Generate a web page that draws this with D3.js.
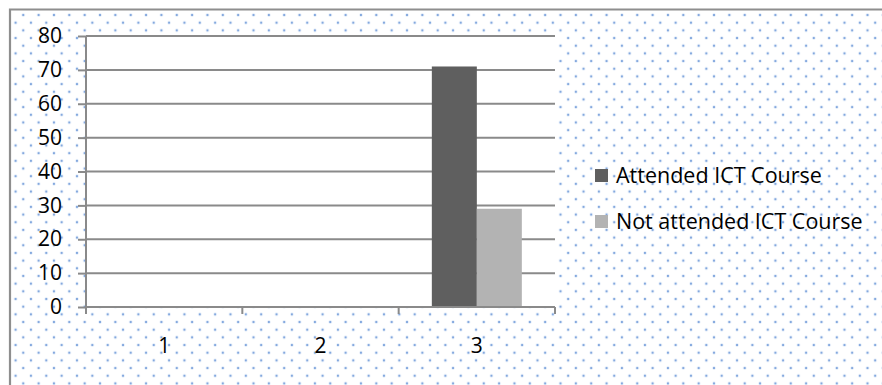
<!DOCTYPE html>
<html>
<head>
<meta charset="utf-8">
<script src="https://cdn.jsdelivr.net/npm/d3@7"></script>
<style>
  html, body { margin: 0; padding: 0; background: #fff; }
  svg { display: block; }
  text { font-family: "Open Sans", "Liberation Sans", sans-serif; fill: #000; }
</style>
</head>
<body>
<svg id="chart" width="882" height="385"></svg>
<script>
// Chart data
const categories = ["1", "2", "3"];
const seriesNames = ["Attended ICT Course", "Not attended ICT Course"];
const attended = [0, 0, 71];
const notAttended = [0, 0, 29];
const yTicks = [0, 10, 20, 30, 40, 50, 60, 70, 80];
const seriesColors = ["#5f5f5f", "#b3b3b3"];

const W = 882, H = 385;
const plot = { left: 86, right: 555, top: 36, bottom: 307 };
const axisColor = "#8a8a8a";
const fontStack = '"Open Sans", "Liberation Sans", sans-serif';

const svg = d3.select("#chart");

// Dotted background fill
const defs = svg.append("defs");
const P = 15.35;
const pat = defs.append("pattern")
  .attr("id", "dots")
  .attr("patternUnits", "userSpaceOnUse")
  .attr("x", -3.6).attr("y", 3.5)
  .attr("width", P).attr("height", P);
[[P / 4, P / 4], [3 * P / 4, 3 * P / 4]].forEach(([cx, cy]) => {
  pat.append("circle").attr("cx", cx).attr("cy", cy).attr("r", 1.6)
    .attr("fill", "#a9c3ea").attr("opacity", 0.5);
  pat.append("circle").attr("cx", cx).attr("cy", cy).attr("r", 0.85)
    .attr("fill", "#5b8bd3");
});

svg.append("rect").attr("width", W).attr("height", H).attr("fill", "#fff");
svg.append("rect").attr("x", 10).attr("y", 9).attr("width", W - 10).attr("height", H - 9)
  .attr("fill", "url(#dots)");

// Chart frame (top and left edges)
svg.append("path")
  .attr("d", `M10,${H} V9.5 H${W}`)
  .attr("fill", "none").attr("stroke", "#8e8e8e").attr("stroke-width", 2.2);

// Scales
const x = d3.scaleBand().domain(categories).range([plot.left, plot.right]).padding(0);
const xs = d3.scaleBand().domain(seriesNames).range([0, x.bandwidth()])
  .paddingInner(0).paddingOuter(0.737);
const y = d3.scaleLinear().domain([0, 80]).range([plot.bottom, plot.top]);

// Plot area
svg.append("rect")
  .attr("x", plot.left).attr("y", plot.top)
  .attr("width", plot.right - plot.left).attr("height", plot.bottom - plot.top)
  .attr("fill", "#fff");

// Gridlines
svg.append("g").selectAll("line").data(yTicks.filter(d => d > 0)).join("line")
  .attr("x1", plot.left).attr("x2", plot.right)
  .attr("y1", d => y(d)).attr("y2", d => y(d))
  .attr("stroke", axisColor).attr("stroke-width", 2);

// Bars
const rows = categories.map((c, i) => ({ c, vals: [attended[i], notAttended[i]] }));
const groups = svg.append("g").selectAll("g").data(rows).join("g")
  .attr("transform", d => `translate(${x(d.c)},0)`);
groups.selectAll("rect")
  .data(d => d.vals.map((v, k) => ({ v, k })))
  .join("rect")
  .attr("x", d => xs(seriesNames[d.k]))
  .attr("width", xs.bandwidth())
  .attr("y", d => y(d.v))
  .attr("height", d => y(0) - y(d.v))
  .attr("fill", d => seriesColors[d.k]);

// Y axis
const yAxis = svg.append("g")
  .attr("transform", `translate(${plot.left},0)`)
  .call(d3.axisLeft(y).tickValues(yTicks).tickSize(8).tickPadding(16).tickFormat(d3.format("d")));
yAxis.select(".domain").attr("d", `M0,${plot.top}V${plot.bottom + 7}`)
  .attr("stroke", axisColor).attr("stroke-width", 2);
yAxis.selectAll(".tick line").attr("stroke", axisColor).attr("stroke-width", 2);
yAxis.selectAll(".tick text")
  .style("font-family", fontStack)
  .style("font-size", "21px").attr("fill", "#000");

// X axis: labels centred in bands, tick marks on band boundaries
const xAxis = svg.append("g")
  .attr("transform", `translate(0,${plot.bottom})`)
  .call(d3.axisBottom(x).tickSize(0).tickPadding(31));
xAxis.select(".domain").attr("d", `M${plot.left},0H${plot.right}`)
  .attr("stroke", axisColor).attr("stroke-width", 2);
xAxis.selectAll(".tick text")
  .style("font-family", fontStack)
  .style("font-size", "21px").attr("fill", "#000");
const bounds = categories.map(c => x(c) + x.bandwidth());
xAxis.append("g").selectAll("line").data(bounds).join("line")
  .attr("x1", d => d).attr("x2", d => d).attr("y1", 0).attr("y2", 7)
  .attr("stroke", axisColor).attr("stroke-width", 2);

// Legend
const legend = svg.append("g").attr("transform", "translate(595,169)");
const items = legend.selectAll("g").data(seriesNames).join("g")
  .attr("transform", (d, i) => `translate(0,${i * 46})`);
items.append("rect").attr("width", 13).attr("height", 13)
  .attr("fill", (d, i) => seriesColors[i]);
items.append("text").attr("x", 21).attr("y", 13.5)
  .style("font-size", "21.5px").text(d => d);
</script>
</body>
</html>
